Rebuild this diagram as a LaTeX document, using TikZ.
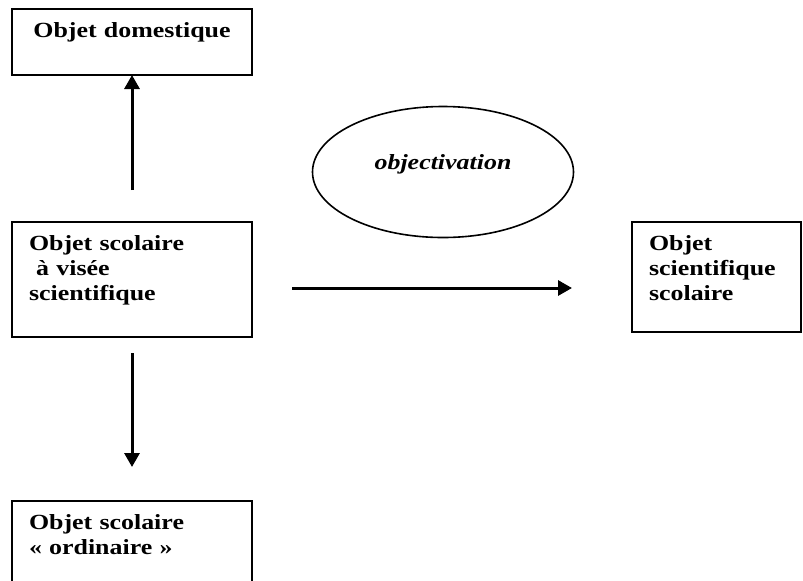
\documentclass[tikz,border=0pt]{standalone}
\usepackage{fontspec}
\setmainfont{Liberation Serif}[FakeStretch=1.2]
\usetikzlibrary{arrows.meta,positioning,shapes}

\begin{document}
\begin{tikzpicture}[>={Triangle[length=7pt,width=7.5pt]},
  every node/.style={font=\fontsize{10.8}{12.5}\selectfont\bfseries},
  box/.style={draw, line width=1pt, anchor=north west, inner xsep=8.5pt, inner ysep=0pt, outer sep=0pt, text height=14pt, align=left},
  link/.style={->, line width=1.5pt}]
  \useasboundingbox (0,0) rectangle (401.5pt,-290pt);
  \node (dom) [box, minimum width=120pt, text width=103pt, text depth=19pt, align=center] at (6pt,-4.5pt) {Objet domestique};
  \node (scol) [box, minimum width=120pt, text width=103pt, text depth=43.5pt, below=73.5pt of dom] {Objet scolaire\\~à visée\\scientifique};
  \node (ord) [box, minimum width=120pt, text width=103pt, text depth=36pt, below=82pt of scol] {Objet scolaire\\« ordinaire »};
  \node (sci) [box, minimum width=84.5pt, text width=67.5pt, text depth=41pt, right=190pt of scol.north east, anchor=north west] {Objet\\scientifique\\scolaire};
  \node (obj) [draw, ellipse, line width=0.8pt, minimum width=130.5pt, minimum height=65.5pt, text height=7.5pt, text depth=10.5pt, font=\fontsize{10.8}{12.5}\selectfont\bfseries\itshape] at (221.5pt,-86pt) {objectivation};
  \draw[link] ([yshift=16pt]scol.north) -- (dom.south);
  \draw[link] ([yshift=-8pt]scol.south) -- ([yshift=17pt]ord.north);
  \draw[link] ([xshift=20pt,yshift=-4.25pt]scol.east) -- ([xshift=-30pt,yshift=-4.25pt]scol.east -| sci.west);
\end{tikzpicture}
\end{document}
